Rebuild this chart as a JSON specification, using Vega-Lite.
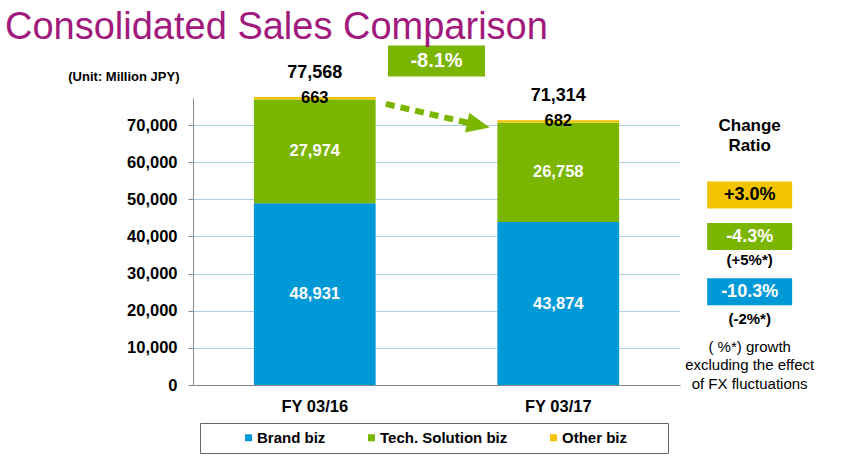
{
  "$schema": "https://vega.github.io/schema/vega-lite/v6.json",
  "width": 487,
  "height": 287,
  "autosize": {"type": "none"},
  "padding": {"left": 193, "top": 98, "right": 170, "bottom": 73},
  "background": "white",
  "config": {"view": {"stroke": null}, "font": "Liberation Sans"},
  "title": {"text": "Consolidated Sales Comparison", "anchor": "start", "frame": "group", "fontSize": 38, "fontWeight": "normal", "color": "#A2197D", "dx": -188, "offset": -1},
  "data": {"values": [
    {"year": "FY 03/16", "seg": "Brand biz", "value": 48931},
    {"year": "FY 03/16", "seg": "Tech. Solution biz", "value": 27974},
    {"year": "FY 03/16", "seg": "Other biz", "value": 663},
    {"year": "FY 03/17", "seg": "Brand biz", "value": 43874},
    {"year": "FY 03/17", "seg": "Tech. Solution biz", "value": 26758},
    {"year": "FY 03/17", "seg": "Other biz", "value": 682}
  ]},
  "resolve": {"scale": {"x": "independent", "y": "independent"}},
  "layer": [
    {
      "layer": [
        {
          "mark": {"type": "bar"},
          "encoding": {
            "x": {"field": "year", "type": "nominal", "scale": {"paddingInner": 0.5, "paddingOuter": 0.25},
                  "axis": {"title": null, "labelAngle": 0, "ticks": false, "labelFontSize": 16.5, "labelFontWeight": "bold", "labelColor": "#000", "domainColor": "#888", "labelPadding": 13}},
            "y": {"field": "value", "type": "quantitative", "stack": "zero", "scale": {"domain": [0, 77300], "nice": false},
                  "axis": {"title": "(Unit: Million JPY)", "titleAngle": 0, "titleAlign": "right", "titleBaseline": "middle", "titleX": -14, "titleY": -22, "titleFontSize": 13, "titleFontWeight": "bold", "titleColor": "#000",
                           "values": [0, 10000, 20000, 30000, 40000, 50000, 60000, 70000], "labelExpr": "format(datum.value, ',')", "labelFontSize": 16.5, "labelFontWeight": "bold", "labelColor": "#000", "domainColor": "#888", "tickColor": "#888", "tickSize": 5, "labelPadding": 11, "gridColor": "#A9D0EA", "gridWidth": 1}},
            "color": {"field": "seg", "type": "nominal",
                      "scale": {"domain": ["Brand biz", "Tech. Solution biz", "Other biz"], "range": ["#0099D8", "#7AB500", "#F2C300"]},
                      "legend": {"orient": "none", "legendX": 7, "legendY": 325, "direction": "horizontal", "title": "\u00a0", "titleOrient": "left", "titleFontSize": 1, "titlePadding": 34, "padding": 7, "strokeColor": "#666", "columnPadding": 38, "symbolType": "square", "symbolSize": 49, "symbolStrokeWidth": 0, "labelFontSize": 15, "labelFontWeight": "bold", "labelColor": "#000", "labelOffset": 1,
                                 "labelExpr": "datum.label == 'Other biz' ? 'Other biz\u00a0\u00a0\u00a0\u00a0\u00a0\u00a0\u00a0\u00a0\u200b' : datum.label"}},
            "order": {"field": "value", "sort": "descending"}
          }
        },
        {
          "mark": {"type": "text", "fontSize": 16.5, "fontWeight": "bold", "baseline": "middle"},
          "encoding": {
            "x": {"field": "year", "type": "nominal"},
            "y": {"field": "value", "type": "quantitative", "stack": "zero", "bandPosition": 0.5},
            "detail": {"field": "seg"},
            "order": {"field": "value", "sort": "descending"},
            "text": {"field": "value", "type": "quantitative", "format": ","},
            "color": {"condition": {"test": "datum.seg === 'Other biz'", "value": "#000"}, "value": "#fff"}
          }
        },
        {
          "mark": {"type": "text", "fontSize": 18, "fontWeight": "bold", "baseline": "middle", "dy": -24, "color": "#000"},
          "encoding": {
            "x": {"field": "year", "type": "nominal"},
            "y": {"aggregate": "sum", "field": "value", "type": "quantitative"},
            "text": {"aggregate": "sum", "field": "value", "type": "quantitative", "format": ","}
          }
        }
      ]
    },
    {
      "data": {"values": [{}]},
      "layer": [
        {
          "mark": {"type": "rule", "color": "#7AB500", "strokeWidth": 6, "strokeDash": [9, 6], "strokeCap": "butt"},
          "encoding": {
            "x": {"datum": 0.396, "type": "quantitative", "scale": {"domain": [0, 1]}, "axis": null},
            "x2": {"datum": 0.564},
            "y": {"datum": 75700, "type": "quantitative", "scale": {"domain": [0, 77300], "nice": false}, "axis": null},
            "y2": {"datum": 70640}
          }
        },
        {
          "mark": {"type": "point", "filled": true, "opacity": 1, "color": "#7AB500", "shape": "M1,0L-1,-0.87L-1,0.87Z", "size": 529, "angle": 12, "strokeWidth": 0},
          "encoding": {
            "x": {"datum": 0.586, "type": "quantitative"},
            "y": {"datum": 70030, "type": "quantitative"}
          }
        },
        {
          "mark": {"type": "point", "filled": true, "opacity": 1, "color": "#7AB500", "shape": "M-1,-0.32H1V0.32H-1Z", "size": 9409, "strokeWidth": 0},
          "encoding": {
            "x": {"datum": 0.5, "type": "quantitative"},
            "y": {"datum": 87260, "type": "quantitative"}
          }
        },
        {
          "mark": {"type": "text", "fontSize": 20, "fontWeight": "bold", "color": "#fff", "baseline": "middle", "align": "center"},
          "encoding": {
            "x": {"datum": 0.5, "type": "quantitative"},
            "y": {"datum": 87260, "type": "quantitative"},
            "text": {"value": "-8.1%"}
          }
        }
      ]
    },
    {
      "data": {"values": [
        {"line": "H", "text": ["Change", "Ratio"], "kind": "head"},
        {"line": "O", "text": "+3.0%", "kind": "ratio", "seg": "Other biz"},
        {"line": "T", "text": "-4.3%", "kind": "ratio", "seg": "Tech. Solution biz"},
        {"line": "TFX", "text": "(+5%*)", "kind": "fx"},
        {"line": "B", "text": "-10.3%", "kind": "ratio", "seg": "Brand biz"},
        {"line": "BFX", "text": "(-2%*)", "kind": "fx"},
        {"line": "N", "text": ["( %*) growth", "excluding the effect", "of FX fluctuations"], "kind": "note"}
      ]},
      "encoding": {
        "x": {"datum": 1.143, "type": "quantitative", "scale": {"domain": [0, 1]}, "axis": null},
        "y": {"field": "line", "type": "ordinal", "axis": null,
              "scale": {"type": "point", "padding": 0, "range": [28, 249],
                        "domain": ["H", "s1", "s2", "s3", "s4", "s5", "s6", "s7", "s8", "s9", "s10", "s11", "s12", "s13", "s14", "O", "s16", "s17", "s18", "s19", "s20", "s21", "s22", "s23", "T", "s25", "s26", "s27", "s28", "TFX", "s30", "s31", "s32", "s33", "s34", "s35", "B", "s37", "s38", "s39", "s40", "s41", "BFX", "s43", "s44", "s45", "s46", "s47", "N"]}}
      },
      "layer": [
        {
          "transform": [{"filter": "datum.kind === 'ratio'"}],
          "mark": {"type": "point", "filled": true, "opacity": 1, "shape": "M-1,-0.318H1V0.318H-1Z", "size": 7225, "strokeWidth": 0},
          "encoding": {
            "fill": {"field": "seg", "type": "nominal", "legend": null,
                     "scale": {"domain": ["Brand biz", "Tech. Solution biz", "Other biz"], "range": ["#0099D8", "#7AB500", "#F2C300"]}}
          }
        },
        {
          "transform": [{"filter": "datum.kind === 'ratio'"}],
          "mark": {"type": "text", "fontSize": 18, "fontWeight": "bold", "baseline": "middle"},
          "encoding": {
            "text": {"field": "text"},
            "color": {"condition": {"test": "datum.seg === 'Other biz'", "value": "#000"}, "value": "#fff"}
          }
        },
        {
          "transform": [{"filter": "datum.kind === 'head'"}],
          "mark": {"type": "text", "fontSize": 17, "fontWeight": "bold", "baseline": "middle", "lineHeight": 20, "color": "#000"},
          "encoding": {"text": {"field": "text"}}
        },
        {
          "transform": [{"filter": "datum.kind === 'fx'"}],
          "mark": {"type": "text", "fontSize": 15, "fontWeight": "bold", "baseline": "middle", "color": "#000"},
          "encoding": {"text": {"field": "text"}}
        },
        {
          "transform": [{"filter": "datum.kind === 'note'"}],
          "mark": {"type": "text", "fontSize": 15, "fontWeight": "normal", "baseline": "middle", "lineHeight": 18.3, "color": "#000"},
          "encoding": {"text": {"field": "text"}}
        }
      ]
    }
  ]
}
